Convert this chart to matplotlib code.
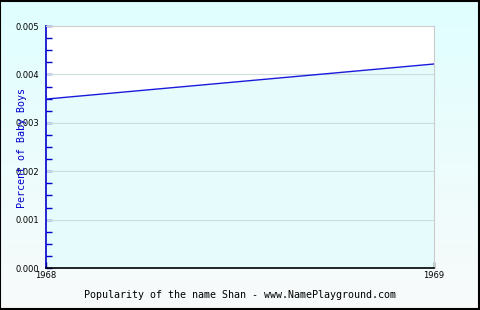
import matplotlib
matplotlib.use("Agg")
import matplotlib.pyplot as plt
import numpy as np
from matplotlib.ticker import MultipleLocator, FixedLocator

years = [1968, 1969]
values = [0.00349, 0.004215]
x_ticks = [1968, 1969]
y_ticks = [0.000, 0.001, 0.002, 0.003, 0.004, 0.005]
y_tick_labels = ["0.000", "0.001", "0.002", "0.003", "0.004", "0.005"]
title = "Popularity of the name Shan - www.NamePlayground.com"
ylabel = "Percent of Baby Boys"

fig = plt.figure(figsize=(4.8, 3.1), dpi=100)

# gradient background
bg = fig.add_axes([0, 0, 1, 1], zorder=0)
grad = np.linspace(0, 1, 256).reshape(-1, 1)
top = np.array([0.878, 1.0, 1.0])
bot = np.array([0.975, 0.98, 0.98])
img = top[None, None, :] * (1 - grad[:, :, None]) + bot[None, None, :] * grad[:, :, None]
bg.imshow(img, aspect="auto", extent=[0, 1, 0, 1])
bg.set_xlim(0, 1); bg.set_ylim(0, 1)
bg.axis("off")
bg.add_patch(plt.Rectangle((0.001, 0.002), 0.996, 0.995, fill=False, edgecolor="black", lw=1.5, transform=bg.transAxes))

ax = fig.add_axes([46/480, 1-268/310, 388/480, 242/310], zorder=1)
ax.set_facecolor("white")
ax.fill_between(years, values, 0, color="#e6fcfc", zorder=1, lw=0)
for yv in y_ticks[1:-1]:
    ax.axhline(yv, color="#ccdcdc", lw=0.8, zorder=2)
ax.plot(years, values, color="#1a1adc", lw=1.0, zorder=3)
ax.set_xlim(1968, 1969)
ax.set_ylim(0, 0.005)

ax.yaxis.set_major_locator(FixedLocator(y_ticks))
ax.set_yticklabels(y_tick_labels)
ax.yaxis.set_minor_locator(MultipleLocator(0.00025))
ax.xaxis.set_major_locator(FixedLocator(x_ticks))
ax.set_xticklabels([str(v) for v in x_ticks])

ax.tick_params(axis="y", which="both", colors="#0000cc", direction="in", length=4, width=1, labelsize=6, labelcolor="black", pad=5)
ax.tick_params(axis="x", which="major", direction="in", length=4, width=1, labelsize=6, pad=2, color="black")

ax.spines["left"].set_color("#0000cc")
ax.spines["left"].set_linewidth(1.2)
ax.spines["bottom"].set_color("black")
ax.spines["bottom"].set_linewidth(1.2)
ax.spines["top"].set_color("#cccccc")
ax.spines["right"].set_color("#cccccc")
ax.spines["top"].set_linewidth(0.8)
ax.spines["right"].set_linewidth(0.8)

fig.text(22/480, 1-148/310, ylabel, rotation=90, color="#0000cc", fontsize=7.2,
         family="DejaVu Sans Mono", ha="center", va="center")
fig.text(240/480, 1-295/310, title, color="black", fontsize=7.2,
         family="DejaVu Sans Mono", ha="center", va="center")

fig.savefig("out.png", dpi=100)
